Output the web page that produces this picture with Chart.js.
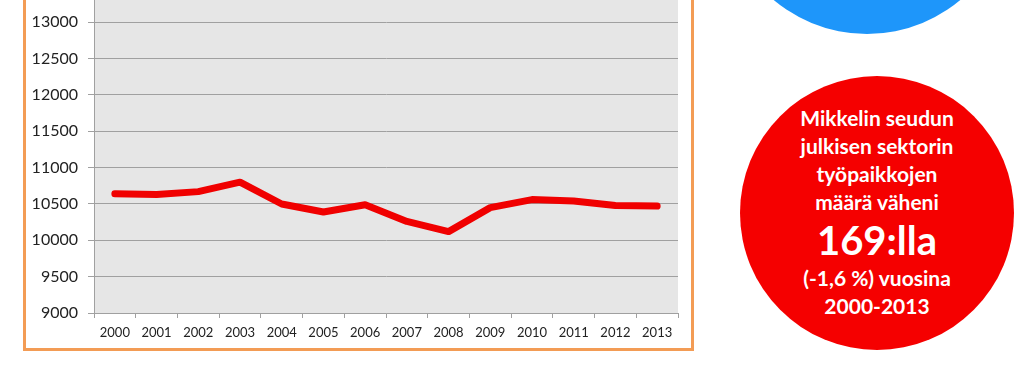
<!DOCTYPE html>
<html>
<head>
<meta charset="utf-8">
<script src="https://cdn.jsdelivr.net/npm/chart.js@4/dist/chart.umd.min.js"></script>
<style>
  html, body { margin: 0; padding: 0; width: 1024px; height: 385px; overflow: hidden; background: #fff; }
  #frame { position: absolute; left: 23px; top: -30px; width: 671px; height: 381px; box-sizing: border-box; border: 3px solid #f39c55; background: #fff; }
  #c { position: absolute; left: 26px; top: -70px; }
  .circle { position: absolute; border-radius: 50%; }
  #blue { left: 722px; top: -256px; width: 290px; height: 290px; background: #1e96fa; }
  #red { left: 740px; top: 76px; width: 274px; height: 274px; background: #f50000; }
  .t { position: absolute; left: 0; width: 100%; text-align: center; color: #fff; font-family: Lato, "Open Sans", sans-serif; font-weight: 700; white-space: nowrap; }
</style>
</head>
<body>
<div id="frame"></div>
<canvas id="c" width="665" height="418"></canvas>
<div class="circle" id="blue"><div class="t" style="top:235px;font-size:21px;line-height:24px;">2000-2013</div></div>
<div class="circle" id="red">
  <div class="t" id="redtext" style="top:28px;font-size:21px;line-height:28px;">
    <div>Mikkelin seudun</div>
    <div>julkisen sektorin</div>
    <div>työpaikkojen</div>
    <div>määrä väheni</div>
    <div style="font-size:40px;line-height:48px;">169:lla</div>
    <div>(-1,6 %) vuosina</div>
    <div>2000-2013</div>
  </div>
</div>
<script>
const years = ["2000","2001","2002","2003","2004","2005","2006","2007","2008","2009","2010","2011","2012","2013"];
const jobs = [10640, 10630, 10670, 10800, 10500, 10390, 10490, 10260, 10120, 10450, 10560, 10540, 10480, 10471];
const yMin = 9000, yMax = 14000, yStep = 500;

const plotBg = {
  id: 'plotBg',
  beforeDraw(chart) {
    const {ctx, chartArea: a} = chart;
    ctx.save();
    ctx.fillStyle = '#e6e6e6';
    ctx.fillRect(a.left, a.top, a.right - a.left, a.bottom - a.top);
    ctx.restore();
  }
};

new Chart(document.getElementById('c'), {
  type: 'line',
  data: {
    labels: years,
    datasets: [{
      data: jobs,
      borderColor: '#f00000',
      borderWidth: 7,
      borderCapStyle: 'round',
      borderJoinStyle: 'round',
      pointRadius: 0,
      tension: 0,
      fill: false
    }]
  },
  options: {
    responsive: false,
    animation: false,
    devicePixelRatio: 1,
    layout: { padding: { top: 0, right: 13, bottom: 0, left: 0 } },
    plugins: { legend: { display: false }, tooltip: { enabled: false } },
    scales: {
      x: {
        offset: true,
        grid: { offset: true, drawOnChartArea: false, drawTicks: true, tickLength: 5, color: '#a0a0a0' },
        border: { color: '#a0a0a0' },
        ticks: { color: '#222', font: { family: 'Lato', size: 13 }, padding: 7, maxRotation: 0, autoSkip: false },
        afterFit(s) { s.height = 35; }
      },
      y: {
        min: yMin, max: yMax,
        ticks: { stepSize: yStep, color: '#222', font: { family: 'Lato', size: 16 }, padding: 10, callback: v => String(v) },
        grid: { color: '#a0a0a0', tickLength: 6 },
        border: { color: '#a0a0a0' },
        afterFit(s) { s.width = 68; }
      }
    }
  },
  plugins: [plotBg]
});
</script>
</body>
</html>
